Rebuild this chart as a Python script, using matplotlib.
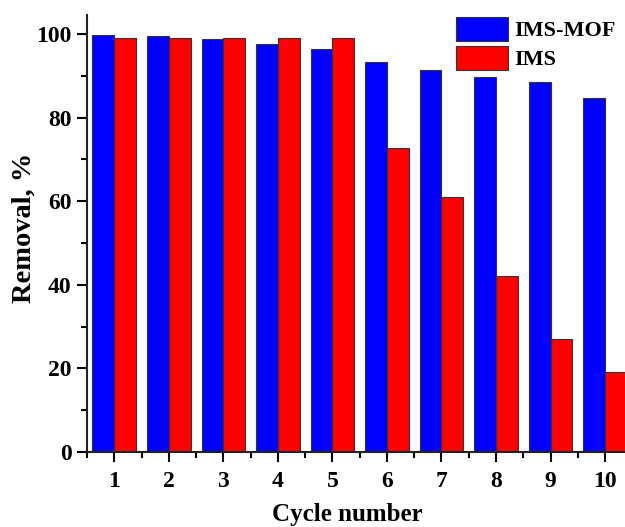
import numpy as np
import matplotlib
matplotlib.use("Agg")
import matplotlib.pyplot as plt
from matplotlib.ticker import MultipleLocator

plt.rcParams["font.family"] = ["Liberation Serif", "DejaVu Serif"]
plt.rcParams["font.weight"] = "bold"

cycles = [1, 2, 3, 4, 5, 6, 7, 8, 9, 10]
ims_mof = [99.8, 99.4, 98.7, 97.5, 96.3, 93.2, 91.3, 89.8, 88.5, 84.7]
ims = [99.0, 99.0, 99.0, 99.0, 99.0, 72.8, 61.0, 42.0, 27.0, 19.1]

fig = plt.figure(figsize=(6.25, 5.27), dpi=100)
ax = fig.add_axes([0.1392, 0.1423, 0.8725, 0.829])

x = np.array(cycles)
w = 0.4
ax.bar(x - w / 2, ims_mof, width=w, color="#0000ff", edgecolor="#333333", linewidth=0.8, label="IMS-MOF")
ax.bar(x + w / 2, ims, width=w, color="#ff0000", edgecolor="#333333", linewidth=0.8, label="IMS")

ax.set_xlim(0.5, 10.5)
ax.set_ylim(0, 104.5)
ax.set_xticks(cycles)
ax.xaxis.set_minor_locator(MultipleLocator(1, offset=0.5))
ax.yaxis.set_major_locator(MultipleLocator(20))
ax.yaxis.set_minor_locator(MultipleLocator(10))

for s in ["top", "right"]:
    ax.spines[s].set_visible(False)
for s in ["left", "bottom"]:
    ax.spines[s].set_linewidth(1.5)
    ax.spines[s].set_color("#222222")

ax.tick_params(which="major", direction="out", length=7, width=1.5, labelsize=17)
ax.tick_params(axis="x", which="major", pad=7)
ax.tick_params(axis="y", which="major", pad=4)
ax.tick_params(which="minor", direction="out", length=4, width=1.5)
for lab in ax.get_xticklabels() + ax.get_yticklabels():
    lab.set_fontweight("bold")

ax.set_xlabel("Cycle number", fontsize=18, fontweight="bold")
ax.xaxis.set_label_coords(0.477, -0.117)
ax.set_ylabel("Removal, %", fontsize=20.5, fontweight="bold")
ax.yaxis.set_label_coords(-0.093, 0.513)

leg = ax.legend(loc="upper right", bbox_to_anchor=(0.994, 1.027), frameon=False,
                fontsize=16, handlelength=2.3, handleheight=1.3,
                labelspacing=0.2, handletextpad=0.3, borderaxespad=0.2)
for t in leg.get_texts():
    t.set_fontweight("bold")

fig.savefig("out.png", dpi=100)
